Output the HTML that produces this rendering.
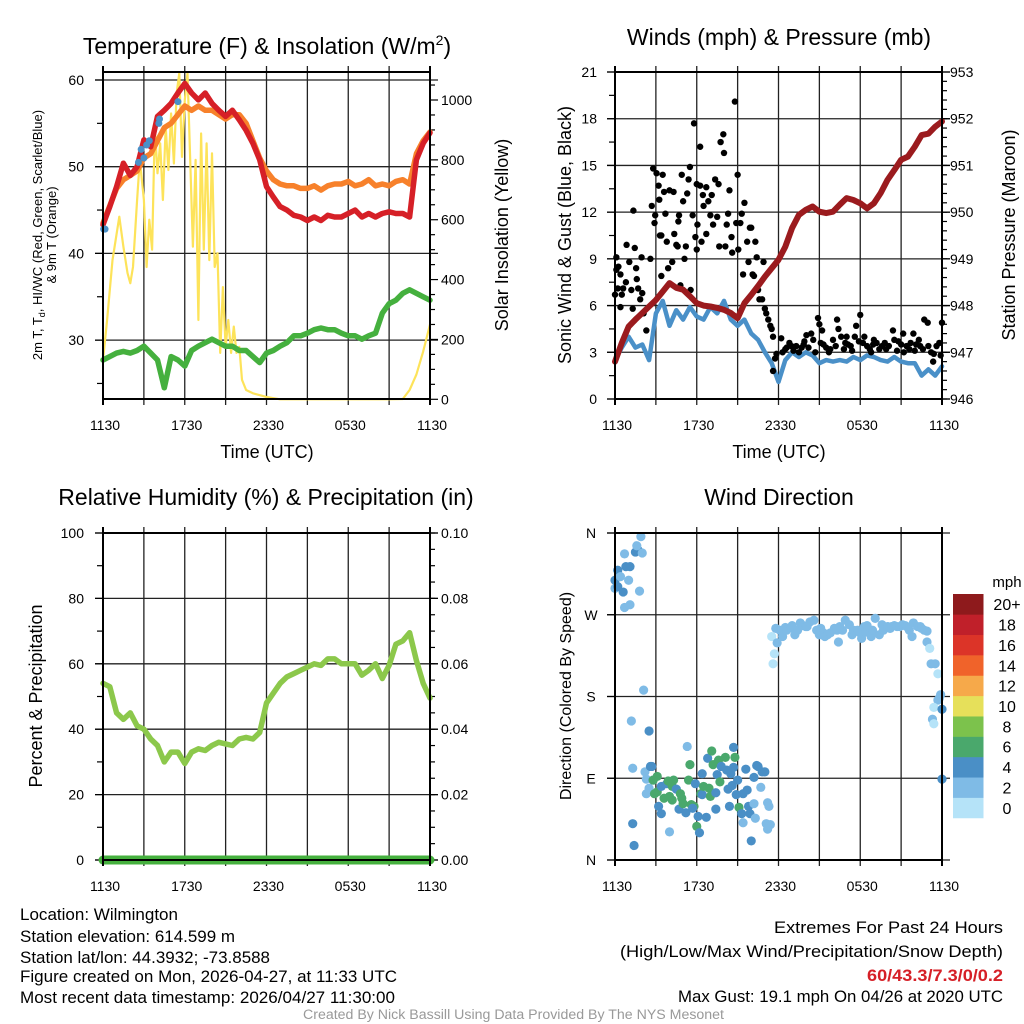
<!DOCTYPE html>
<html><head><meta charset="utf-8">
<style>
html,body{margin:0;padding:0;background:#fff;}
svg{display:block;font-family:"Liberation Sans",sans-serif;}
</style></head>
<body>
<svg id="chart" width="1024" height="1024" viewBox="0 0 1024 1024" xmlns="http://www.w3.org/2000/svg">
<rect x="0" y="0" width="1024" height="1024" fill="#fff"/>
<g id="layer"></g>
<!-- titles -->
<text x="267" y="54" font-size="23" text-anchor="middle">Temperature (F) &amp; Insolation (W/m<tspan font-size="14" dy="-9">2</tspan><tspan dy="9">)</tspan></text>
<text x="779" y="45" font-size="23" text-anchor="middle">Winds (mph) &amp; Pressure (mb)</text>
<text x="266" y="505" font-size="23" text-anchor="middle">Relative Humidity (%) &amp; Precipitation (in)</text>
<text x="779" y="505" font-size="23" text-anchor="middle">Wind Direction</text>
<!-- axis titles -->
<text transform="translate(42,235) rotate(-90)" font-size="13" text-anchor="middle">2m T, T<tspan font-size="9" dy="3">d</tspan><tspan dy="-3">, HI/WC (Red, Green, Scarlet/Blue)</tspan></text>
<text transform="translate(56,235) rotate(-90)" font-size="13" text-anchor="middle">&amp; 9m T (Orange)</text>
<text transform="translate(508,235) rotate(-90)" font-size="18" text-anchor="middle">Solar Insolation (Yellow)</text>
<text x="267" y="458" font-size="18" text-anchor="middle">Time (UTC)</text>
<text transform="translate(571,235) rotate(-90)" font-size="18" text-anchor="middle">Sonic Wind &amp; Gust (Blue, Black)</text>
<text transform="translate(1015,235) rotate(-90)" font-size="18" text-anchor="middle">Station Pressure (Maroon)</text>
<text x="779" y="458" font-size="18" text-anchor="middle">Time (UTC)</text>
<text transform="translate(42,696) rotate(-90)" font-size="18" text-anchor="middle">Percent &amp; Precipitation</text>
<text transform="translate(571,696) rotate(-90)" font-size="16" text-anchor="middle">Direction (Colored By Speed)</text>
<!-- footer -->
<g font-size="17">
<text x="20" y="920" textLength="158" lengthAdjust="spacingAndGlyphs">Location: Wilmington</text>
<text x="20" y="942" textLength="215" lengthAdjust="spacingAndGlyphs">Station elevation: 614.599 m</text>
<text x="20" y="963" textLength="250" lengthAdjust="spacingAndGlyphs">Station lat/lon: 44.3932; -73.8588</text>
<text x="20" y="982" textLength="377" lengthAdjust="spacingAndGlyphs">Figure created on Mon, 2026-04-27, at 11:33 UTC</text>
<text x="20" y="1003" textLength="375" lengthAdjust="spacingAndGlyphs">Most recent data timestamp: 2026/04/27 11:30:00</text>
</g>
<g font-size="17">
<text x="774" y="933" textLength="229" lengthAdjust="spacingAndGlyphs">Extremes For Past 24 Hours</text>
<text x="620" y="957" textLength="383" lengthAdjust="spacingAndGlyphs">(High/Low/Max Wind/Precipitation/Snow Depth)</text>
<text x="867" y="981" textLength="136" lengthAdjust="spacingAndGlyphs" fill="#d62027" font-weight="bold">60/43.3/7.3/0/0.2</text>
<text x="678" y="1002" textLength="325" lengthAdjust="spacingAndGlyphs">Max Gust: 19.1 mph On 04/26 at 2020 UTC</text>
</g>
<text x="303" y="1019" font-size="13.5" fill="#999" textLength="421" lengthAdjust="spacingAndGlyphs">Created By Nick Bassill Using Data Provided By The NYS Mesonet</text>
</svg>
<script>
// ---- time axis (hours since 1130 UTC), half-hour samples ----
const halfHours = Array.from({length:49},(_,i)=>i*0.5);
const timeTickLabels = ["1130","1730","2330","0530","1130"];
// Panel 1
const tempF = [43.3,45.4,47.7,50.4,49,50,53.1,52.3,55.8,56.5,57.3,58.5,59.6,58.5,57.7,58.5,57.3,56.5,55.8,56.5,55.4,54.2,52.7,50.8,47.7,46.5,45.4,45,44.4,44.2,43.8,44.2,43.8,44.4,44.2,44.2,44.6,45,44.2,44.6,44.2,44.6,44.8,44.6,44.6,44.2,50.8,52.7,53.9];
const temp9mF = [43.5,45.5,47.5,48.5,49,49.5,51,51.5,53,54.5,55,56,57,56.5,57,56.5,56.5,56,55.5,56,56,55,53,51,49.5,48.5,48,47.8,47.8,47.5,47.5,47.8,47.3,47.8,48,48,48.3,47.8,48,48.5,47.8,48,47.8,48.3,48.5,48,51.5,53,54];
const dewpointF = [27.7,28.1,28.5,28.7,28.5,28.8,29.3,28.5,27.7,24.5,28.1,27.7,27,28.8,29.3,29.7,30.1,29.7,29.3,29.3,28.8,28.8,28.1,27.4,28.5,28.8,29.3,29.7,30.5,30.5,30.8,31.2,31.4,31.2,31.2,30.8,30.5,30.5,30.1,30.5,30.8,33.1,34.2,34.6,35.4,35.8,35.4,35,34.6];
const heatIndexH = [0.05,0.15,2.6,2.8,3.0,3.2,3.4,4.1,4.15,5.5];
const heatIndexF = [42.8,42.8,50.5,52,51,52.5,53,55,55.5,57.5];
const insolationH = [0,0.3,0.7,1.2,1.5,1.8,2.0,2.2,2.5,2.7,3.0,3.2,3.4,3.6,3.8,4.0,4.2,4.4,4.6,4.8,5.0,5.2,5.4,5.6,5.8,6.0,6.2,6.4,6.6,6.8,7.0,7.2,7.4,7.6,7.8,8.0,8.2,8.4,8.6,8.8,9.0,9.2,9.4,9.6,9.8,10.0,10.2,10.5,11,12,13,15,18,21,22,22.5,23,23.5,24];
const insolationW = [131,265,465,610,510,422,388,442,666,800,666,442,600,500,910,755,855,666,910,766,955,788,1022,1090,810,1000,1090,800,510,800,265,888,500,855,465,822,442,488,155,375,175,265,155,243,155,175,65,31,20,8,0,0,0,0,1,31,83,160,250];
const tempTicks = [30,40,50,60];
const insolTicks = [0,200,400,600,800,1000];
// Panel 2
const windMph = [2.5,3.3,4,3.3,3.5,2.5,5.5,6.3,4.7,5.7,5.1,5.9,5.3,5.1,5.9,5.5,6.3,5.1,4.7,5.1,4.2,3.8,3.0,2.3,1.1,2.5,3.0,2.7,3.0,2.8,2.3,2.5,2.4,2.5,2.4,2.7,2.5,2.8,2.7,2.5,2.4,2.7,2.4,2.3,2.3,1.5,1.9,1.5,2.1];
const pressureMb = [946.80,947.2,947.55,947.7,947.84,947.98,948.12,948.3,948.48,948.38,948.34,948.2,948.05,948.0,947.98,947.95,947.91,947.84,947.73,948.05,948.23,948.42,948.62,948.8,948.98,949.26,949.66,949.94,950.05,950.12,950.01,949.98,950.01,950.16,950.30,950.26,950.19,950.08,950.19,950.41,950.69,950.90,951.12,951.19,951.40,951.65,951.68,951.83,951.94];
const gustH = [0,0.1,0.1,0.25,0.4,0.2,0.5,0.4,0.6,0.8,0.85,1.05,1.2,1.3,1.35,1.45,1.55,1.6,1.7,1.85,1.95,2.0,2.1,2.3,2.6,2.8,2.7,2.9,2.95,3.05,3.2,3.25,3.3,3.4,3.4,3.5,3.6,3.7,3.8,3.9,4.0,4.2,4.3,4.35,4.5,4.6,4.65,4.7,4.8,4.9,5.0,5.1,5.2,5.3,5.4,5.5,5.55,5.7,5.8,5.9,6.0,6.0,6.05,6.25,6.25,6.35,6.45,6.5,6.7,6.7,6.85,7.0,7.1,7.2,7.35,7.5,7.6,7.65,7.75,7.95,8.0,8.1,8.2,8.3,8.4,8.55,8.6,8.8,8.9,9.0,9.05,9.2,9.3,9.4,9.5,9.7,9.8,9.9,10.0,10.1,10.2,10.3,10.4,10.5,10.6,10.9,10.8,11.0,11.1,11.25,11.4,11.5,11.6,11.6,11.75,11.85,12.2,12.5,12.6,12.95,13.3,13.7,13.85,14.05,14.4,14.55,14.9,15.0,15.2,15.3,15.5,15.8,16.0,16.3,16.4,16.6,16.9,17.1,17.3,17.7,17.6,18.0,18.2,18.5,18.7,18.95,19.2,19.6,19.9,20.4,20.5,20.8,21.15,21.4,21.6,21.9,22.1,22.4,22.7,22.95,23.2,23.35,23.6,23.8,24.0,12.3,12.8,13.1,13.5,13.9,14.2,14.7,15.1,15.7,16.2,16.8,17.0,17.4,17.9,18.3,18.8,19.0,19.4,19.8,20.1,20.7,21.0,21.2,21.7,22.0,22.3,22.6,23.0,23.4,23.9];
const gustMph = [6.7,9.1,8.3,8.5,8.0,7.1,6.7,5.9,7.1,7.5,9.9,8.8,7.0,5.8,12.1,9.7,8.4,7.7,7.1,6.4,9.1,6.8,5.5,4.4,9.0,14.8,12.4,11.3,11.8,14.5,13.7,12.8,10.5,7.9,10.5,14.4,13.3,11.9,10.1,8.4,13.4,8.8,13.3,10.6,9.9,9.8,11.4,11.8,7.3,14.4,12.7,9.0,9.8,13.2,14.1,14.9,7.0,11.8,17.7,10.4,13.8,9.6,11.2,16.2,13.7,10.1,13.1,12.4,13.6,10.6,12.7,11.8,13.1,11.2,14.1,11.7,13.8,9.8,16.5,17.0,15.8,9.8,11.2,11.9,13.4,10.4,9.4,19.1,11.3,14.4,9.6,11.3,11.9,8.0,12.6,10.1,8.8,11.0,11.0,8.0,7.9,10.1,9.1,7.0,6.4,8.8,6.4,5.8,5.5,5.1,4.7,4.5,4.0,1.8,2.6,2.9,3.9,3.2,3.3,3.4,3.4,3.3,3.5,4.1,4.2,3.8,5.2,4.8,4.4,3.5,3.3,3.2,3.8,5.1,4.5,4.0,3.6,3.5,3.4,4.7,4.0,5.4,3.6,3.4,3.2,3.5,3.6,3.4,3.2,4.4,3.8,3.7,4.2,3.4,3.2,4.2,3.5,3.4,5.1,4.9,3.0,2.4,3.4,3.6,4.9,3.0,3.6,3.1,3.0,3.7,3.3,3.0,3.6,3.0,3.4,3.2,4.0,3.1,3.7,4.0,3.0,3.8,3.2,3.6,3.4,3.1,3.5,3.0,3.6,3.1,3.8,3.2,3.4,2.9,2.8];
const windTicks = [0,3,6,9,12,15,18,21];
const pressTicks = [946,947,948,949,950,951,952,953];
// Panel 3
const rhPct = [54,53,45,43,45,41,40,37,35,30,33,33,29.5,33,34,33.5,35,36,35.5,35,37,37.5,37,39,48,51,54,56,57,58,59,60,59.5,61.5,61.5,60,60,60,56.5,58,60,55.5,59.5,66,67,69.5,61,54,49.5];
const precipIn = [0,0,0,0,0,0,0,0,0,0,0,0,0,0,0,0,0,0,0,0,0,0,0,0,0,0,0,0,0,0,0,0,0,0,0,0,0,0,0,0,0,0,0,0,0,0,0,0,0];
const rhTicks = [0,20,40,60,80,100];
const precipTicks = ["0.00","0.02","0.04","0.06","0.08","0.10"];
// Panel 4
const dirH = [0,0,0.2,0.4,0.2,0.6,0.7,0.8,1.1,1.0,0.7,1.1,1.5,1.7,1.6,1.9,2.0,1.8,2.1,1.2,2.5,1.3,1.4,1.3,
2.2,2.3,2.6,2.7,2.5,2.3,2.8,3.1,2.8,2.9,3.1,3.2,3.4,3.4,3.6,3.8,3.9,4.0,4.2,4.3,4.2,4.5,4.7,4.8,4.9,5.0,5.2,5.3,5.4,5.5,5.6,5.8,5.7,5.9,6.1,6.0,6.2,6.3,6.4,6.4,6.5,6.7,6.8,6.9,7.0,7.1,7.2,7.4,7.4,7.5,7.6,7.7,7.8,8.1,8.2,8.3,8.4,8.5,8.6,8.7,8.7,8.8,8.9,9.0,9.1,9.3,9.4,9.4,9.6,9.7,9.8,9.9,10.0,10.2,10.2,10.3,10.4,10.5,10.7,10.8,11.0,11.2,11.3,11.1,11.4,11.2,4.0,
11.5,11.7,11.6,11.8,11.9,12.1,12.3,12.5,12.6,12.9,13.0,13.2,13.4,13.6,13.8,14.0,14.1,14.3,14.6,14.8,15.0,15.1,15.3,15.4,15.6,15.8,16.1,16.3,16.4,16.5,16.7,16.9,17.2,17.4,17.5,17.8,18.0,18.1,18.3,18.4,18.5,18.8,18.9,19.1,19.4,19.6,19.7,20.0,20.2,20.3,20.5,20.7,20.9,21.1,21.3,21.4,21.6,21.8,21.9,22.2,22.4,22.5,22.7,22.9,22.9,23.1,23.2,23.5,23.7,23.8,23.7,23.9,23.4,23.3,23.4,24.0,24.0];
const dirDeg = [299,308,319,312,301,295,337,323,323,308,278,281,339,341,346,356,338,296,187,153,142,40,16,101,
97,89,103,103,79,73,88,92,88,73,75,59,51,81,68,84,87,70,81,88,66,78,56,73,68,62,52,125,88,105,61,59,57,84,48,37,30,73,72,95,81,47,112,79,70,120,105,74,56,94,110,86,103,113,99,78,59,95,82,124,102,113,72,88,58,51,41,73,100,77,59,51,21,62,91,46,104,103,80,97,97,63,59,40,39,34,31,
246,227,216,255,239,253,246,256,253,256,258,248,253,261,258,257,257,262,264,253,248,255,250,246,248,250,255,253,240,257,253,264,259,248,253,253,250,244,257,251,258,246,253,266,248,259,253,257,255,257,258,257,257,259,258,257,253,246,261,257,257,255,253,252,240,233,216,216,205,178,176,182,168,155,150,166,89];
const dirSpd = [3,5,5,3,5,5,3,5,5,3,3,3,5,5,3,3,3,3,3,3,5,5,5,3,
3,3,5,5,3,3,5,7,7,7,7,5,5,5,7,5,7,7,7,7,7,5,5,7,7,7,5,3,7,7,7,7,5,5,5,7,5,7,5,5,7,5,5,7,7,7,7,5,5,5,7,7,5,7,5,5,5,5,5,5,5,7,5,5,7,5,3,5,5,5,5,5,5,3,5,3,5,5,3,5,5,3,3,3,3,3,3,
1,1,1,3,3,3,3,3,3,3,3,3,3,3,3,3,3,3,3,3,3,3,3,3,3,3,3,3,3,3,3,3,3,3,3,3,3,3,3,3,3,3,3,3,3,3,3,3,3,3,3,3,3,3,3,3,3,3,3,3,3,3,3,3,3,1,3,3,1,3,3,3,1,3,1,5,5];
const dirTickLabels = ["N","E","S","W","N"];
const speedBinLabels = ["0","2","4","6","8","10","12","14","16","18","20+"];
const speedBinColors = ["#b5e3f8","#7fbbe6","#4a8fc6","#4aa86c","#7cc24c","#e6e05a","#f6a94a","#f0632a","#dc3428","#c0202a","#8e1a1c"];

const NS="http://www.w3.org/2000/svg";
const layer=document.getElementById('layer');
function mk(tag,attrs,parent){const e=document.createElementNS(NS,tag);for(const k in attrs)e.setAttribute(k,attrs[k]);(parent||layer).appendChild(e);return e;}

function makeX(x0,x1){return h=>x0+h/24*(x1-x0);}
function makeY(y0,y1,v0,v1){return v=>y1-(v-v0)/(v1-v0)*(y1-y0);}

function frame(name,x0,x1,y0,y1,xs){
  const g=mk('g',{});
  
  
  for(let h=3;h<24;h+=3){
    const l=mk('line',{x1:xs(h),x2:xs(h),y1:y0-6,y2:y1+6,stroke:'#222','stroke-width':1.3},g);
    
    
  }
  for(let i=0;i<5;i++){
    const t=mk('text',{x:xs(i*6)+2,y:y1+31,'font-size':14,'text-anchor':'middle'},g);
    t.textContent=timeTickLabels[i];
    
    
  }
  return g;
}
function box(name,x0,x1,y0,y1){
  const r=mk('rect',{x:x0,y:y0,width:x1-x0,height:y1-y0,fill:'none',stroke:'#000','stroke-width':2});
  
  
  for(const x of [x0,x1]){mk('line',{x1:x,x2:x,y1:y0-6,y2:y1+6,stroke:'#000','stroke-width':2});}
}
function hline(y,x0,x1,name){
  const l=mk('line',{x1:x0-8,x2:x1+8,y1:y,y2:y,stroke:'#222','stroke-width':1.3});
  
  
}
function tickL(x,y,len){mk('line',{x1:x-len,x2:x,y1:y,y2:y,stroke:'#000','stroke-width':1.2});}
function tickR(x,y,len){mk('line',{x1:x,x2:x+len,y1:y,y2:y,stroke:'#000','stroke-width':1.2});}
function label(x,y,txt,anchor,name,size){
  const t=mk('text',{x:x,y:y+5,'font-size':size||14,'text-anchor':anchor});
  t.textContent=txt;
  
  
}
function line(xsArr,ysArr,color,w,name){
  const d=xsArr.map((x,i)=>(i?'L':'M')+x.toFixed(1)+' '+ysArr[i].toFixed(1)).join('');
  const p=mk('path',{d:d,fill:'none',stroke:color,'stroke-width':w,'stroke-linejoin':'round','stroke-linecap':'round'});
  
  
}
function dot(x,y,r,color,name){
  const c=mk('circle',{cx:x,cy:y,r:r,fill:color});
  
  
}

// ===== Panel 1 =====
{
const x0=103,x1=430,y0=72,y1=399;
const xs=makeX(x0,x1);
const yTemp=v=>80+(60-v)*8.67;
const yIns=makeY(y0,399.3,0,1000*(399.3-y0)/299.3);
frame('temperature',x0,x1,y0,y1,xs);
tempTicks.forEach(v=>hline(yTemp(v),x0,x1,'temperature-gridline'));
for(let v=25;v<=60;v+=5){tickL(x0,yTemp(v),v%10?6:8);}
tempTicks.forEach(v=>label(84,yTemp(v),String(v),'end','temperature-tick-label'));
for(let v=0;v<=1050;v+=50){tickR(x1,yIns(v),v%200?5:8);}
insolTicks.forEach(v=>label(441,yIns(v),String(v),'start','insolation-tick-label'));
line(insolationH.map(xs),insolationW.map(yIns),'#fde35a',2.2,'insolation-line');
line(halfHours.map(xs),dewpointF.map(yTemp),'#45b03e',5.5,'dewpoint-line');
line(halfHours.map(xs),temp9mF.map(yTemp),'#f7812b',5.5,'temperature-9m-line');
line(halfHours.map(xs),tempF.map(yTemp),'#d62027',5.5,'temperature-2m-line');
heatIndexH.forEach((h,i)=>dot(xs(h),yTemp(heatIndexF[i]),3.5,'#4a90c8','heat-index-point'));
box('temperature',x0,x1,y0,y1);
}
// ===== Panel 2 =====
{
const x0=615,x1=942,y0=72,y1=399;
const xs=makeX(x0,x1);
const yW=makeY(y0,y1,0,21);
const yP=makeY(y0,y1,946,953);
frame('wind',x0,x1,y0,y1,xs);
windTicks.forEach(v=>hline(yW(v),x0,x1,'wind-gridline'));
for(let v=0;v<=21;v+=1.5){tickL(x0,yW(v),v%3?6:8);}
windTicks.forEach(v=>label(597,yW(v),String(v),'end','wind-tick-label'));
for(let v=946;v<=953;v+=0.2){tickR(x1,yP(v),5);}
pressTicks.forEach(v=>{tickR(x1,yP(v),8);label(950,yP(v),String(v),'start','pressure-tick-label');});
line(halfHours.map(xs),windMph.map(yW),'#4a90c8',4.5,'sonic-wind-line');
gustH.forEach((h,i)=>dot(xs(h),yW(gustMph[i]),3.2,'#000','gust-point'));
line(halfHours.map(xs),pressureMb.map(yP),'#9b1b1e',6,'pressure-line');
box('wind',x0,x1,y0,y1);
}
// ===== Panel 3 =====
{
const x0=103,x1=430,y0=533,y1=860;
const xs=makeX(x0,x1);
const yR=makeY(y0,y1,0,100);
const yPr=makeY(y0,y1,0,0.1);
frame('humidity',x0,x1,y0,y1,xs);
rhTicks.forEach(v=>hline(yR(v),x0,x1,'humidity-gridline'));
for(let v=0;v<=100;v+=10){tickL(x0,yR(v),v%20?6:8);}
rhTicks.forEach(v=>label(84,yR(v),String(v),'end','humidity-tick-label'));
for(let v=0;v<=0.1001;v+=0.005){tickR(x1,yPr(v),5);}
precipTicks.forEach(v=>{tickR(x1,yPr(+v),8);label(441,yPr(+v),v,'start','precip-tick-label');});
line(halfHours.map(xs),rhPct.map(yR),'#8cc84b',5.5,'humidity-line');
line(halfHours.map(xs),precipIn.map(yPr),'#45b03e',9,'precipitation-line');
box('humidity',x0,x1,y0,y1);
}
// ===== Panel 4 =====
{
const x0=615,x1=942,y0=533,y1=860;
const xs=makeX(x0,x1);
const yD=makeY(y0,y1,0,360);
frame('direction',x0,x1,y0,y1,xs);
dirTickLabels.forEach((t,i)=>{hline(yD(i*90),x0,x1,'direction-gridline');tickL(x0,yD(i*90),8);label(591,yD(i*90),t,'middle','direction-tick-label');});
function spdColor(s){let b=Math.floor(s/2);if(b>10)b=10;return speedBinColors[b];}
dirH.forEach((h,i)=>dot(xs(h),yD(dirDeg[i]),4.6,spdColor(dirSpd[i]),'direction-point'));
box('direction',x0,x1,y0,y1);
const cb=mk('g',{});


const top=594,bh=20.36;
speedBinColors.forEach((c,i)=>{
  const y=top+(10-i)*bh;
  const r=mk('rect',{x:953,y:y,width:30.5,height:bh+0.3,fill:c},cb);
  
  
  const t=mk('text',{x:1007,y:y+bh/2+6,'font-size':16,'text-anchor':'middle'},cb);
  t.textContent=speedBinLabels[i];
  
  
});
const u=mk('text',{x:1007,y:587,'font-size':15,'text-anchor':'middle'},cb);
u.textContent='mph';


}
</script>
</body></html>
